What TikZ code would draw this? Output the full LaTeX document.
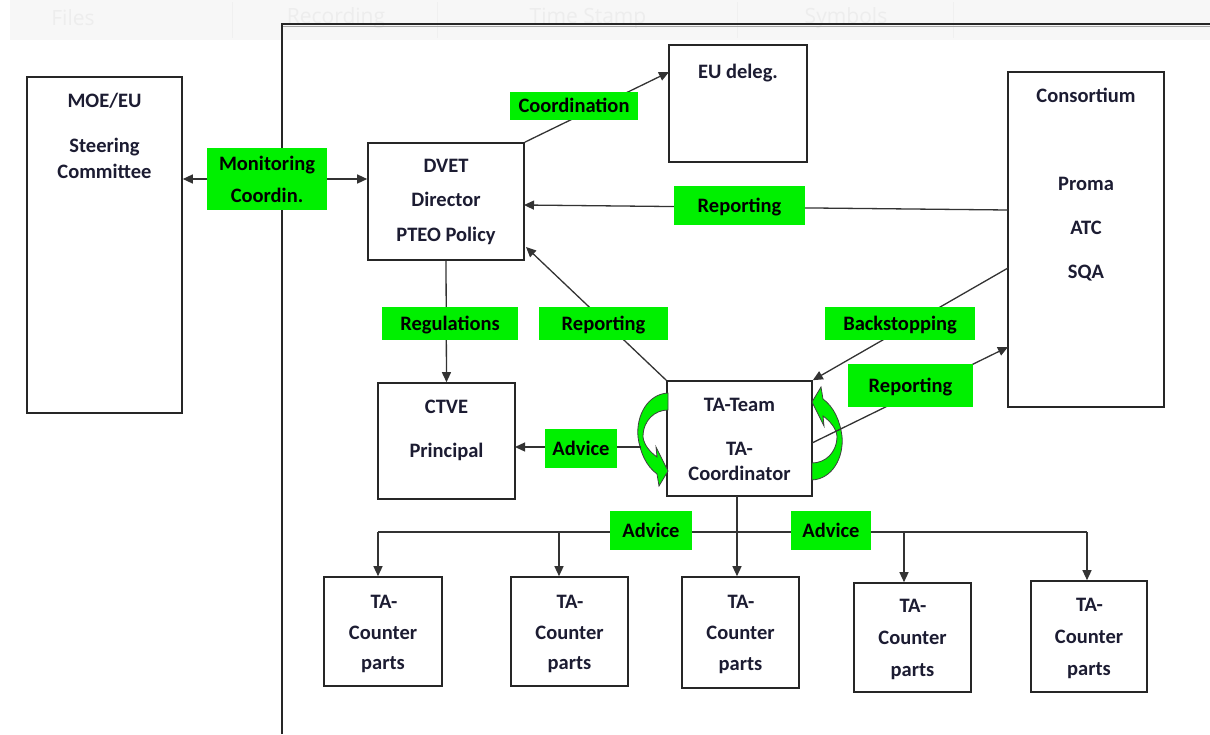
\documentclass[tikz,border=0pt]{standalone}
\usepackage{fontspec}
\setmainfont{Carlito}
\newfontfamily\hdrfont{Open Sans}
\usetikzlibrary{arrows.meta}
\definecolor{lime}{RGB}{0,240,0}
\definecolor{ink}{RGB}{28,28,50}
\newcommand\BX[5]{\node[box, minimum width={(#4-#2)*1pt}, minimum height={(#5-#3)*1pt}] (#1) at ({(#2+#4)/2},{(#3+#5)/2}) {};}
\newcommand\GL[6]{\node[gl, minimum width={(#4-#2)*1pt}, minimum height={(#5-#3)*1pt}] (#1) at ({(#2+#4)/2},{(#3+#5)/2}) {#6};}
\newcommand\TL[4]{\node[tl] (#1) at (#2,{#3+6.8}) {#4};}
\begin{document}
\begin{tikzpicture}[x=1pt,y=-1pt,
  box/.style={draw=black!85, line width=1.6pt, fill=white, inner sep=0pt},
  tl/.style={font=\fontsize{20.5}{22}\selectfont\bfseries, text=ink, inner sep=0pt, anchor=base},
  gl/.style={fill=lime, inner sep=0pt, text height=13.5pt, text depth=0pt, font=\fontsize{20.5}{22}\selectfont\bfseries},
  con/.style={draw=black!80, line width=1.3pt},
  arr/.style={con, -{Triangle[length=10pt,width=9pt]}},
  cur/.style={fill=lime, draw=black!75, line width=0.8pt},
  hdr/.style={font=\hdrfont\fontsize{21}{23}\selectfont, text=black!7}
]
\useasboundingbox (0,0) rectangle (1210,734);
% header strip
\fill[black!3] (10,0) rectangle (1210,40);
\foreach \sx in {232,437,737,953} \draw[black!6, line width=0.8pt] (\sx,2) -- (\sx,38);
\node[hdr] (h1) at (73,18) {Files};
\node[hdr] (h2) at (336,18) {Recording};
\node[hdr] (h3) at (588,18) {Time Stamp};
\node[hdr] (h4) at (846,18) {Symbols};
% frame
\draw[black!85, line width=1.5pt] (282,734) -- (282,24) -- (1210,24);
\draw[black!35, line width=1pt] (283,26.5) -- (1210,26.5);
% boxes
\BX{moe}{27}{77}{182}{413}
\BX{dvet}{368}{143}{524}{260}
\BX{eud}{669}{45}{807}{162}
\BX{cons}{1008}{72}{1164}{407}
\BX{ctve}{378}{383}{515}{499}
\BX{tat}{667}{381}{812}{496}
\BX{c1}{324}{577}{442}{686}
\BX{c2}{511}{577}{628}{686}
\BX{c3}{682}{577}{799}{688}
\BX{c4}{854}{583}{971}{692}
\BX{c5}{1031}{581}{1147}{692}
% coordinates for free connector ends
\coordinate (eudIn) at (669,72);
\coordinate (consOut1) at (1008,210);
\coordinate (dvetIn1) at (524,205);
\coordinate (dvetIn2) at (526,247);
\coordinate (consOut2) at (1008,268);
\coordinate (tatOut) at (812,443);
\coordinate (consIn) at (1008,347);
\coordinate (tatAdv) at (641,447);
\coordinate (ctveIn) at (515,447);
\coordinate (b1) at (378,532);
\coordinate (b2) at (559,532);
\coordinate (b3) at (737,532);
\coordinate (b4) at (904,532);
\coordinate (b5) at (1087,532);
\coordinate (tatS) at (737,496);
% circular arrows
\path[cur] (668,393) .. controls (648,394) and (636,415) .. (638,437)
  .. controls (640,452) and (646,466) .. (657,474)
  -- (659,486) -- (668,471) -- (656,447) -- (657,457)
  .. controls (650,452) and (644,445) .. (643,437)
  .. controls (643,420) and (655,410) .. (668,410) -- cycle;
\path[cur, rotate around={180:(740,436.5)}] (668,393) .. controls (648,394) and (636,415) .. (638,437)
  .. controls (640,452) and (646,466) .. (657,474)
  -- (659,486) -- (668,471) -- (656,447) -- (657,457)
  .. controls (650,452) and (644,445) .. (643,437)
  .. controls (643,420) and (655,410) .. (668,410) -- cycle;
% green label behind the monitoring connectors
\node[fill=lime, minimum width=120pt, minimum height=62pt, inner sep=0pt] (mon) at (267,179) {};
% connectors
\draw[arr] (mon.west) -- (moe.east |- mon.west);
\draw[arr] (mon.east) -- (dvet.west |- mon.east);
\draw[arr] (dvet.north east) -- (eudIn);
\draw[arr] (consOut1) -- (dvetIn1);
\draw[arr] (dvet.south) -- (ctve.north);
\draw[arr] (tat.north west) -- (dvetIn2);
\draw[arr] (consOut2) -- (tat.north east);
\draw[arr] (tatOut) -- (consIn);
\draw[arr] (tatAdv) -- (ctveIn);
\draw[con] (b1) -- (b5);
\draw[arr] (tatS) -- (tatS |- c3.north);
\draw[arr] (b1) -- (b1 |- c1.north);
\draw[arr] (b2) -- (b2 |- c2.north);
\draw[arr] (b4) -- (b4 |- c4.north);
\draw[arr] (b5) -- (b5 |- c5.north);
% labels on top
\node[fill=lime, minimum width=120pt, minimum height=62pt, inner sep=0pt] at (mon) {};
\node[tl, text=black] (mon1) at (267,170.8) {Monitoring};
\node[tl, text=black] (mon2) at (267,202.8) {Coordin.};
\GL{lcoord}{510}{92}{638}{120}{Coordination}
\GL{lrep1}{674}{186}{805}{225}{Reporting}
\GL{lreg}{382}{307}{518}{340}{Regulations}
\GL{lrep2}{539}{307}{668}{340}{Reporting}
\GL{lback}{825}{307}{975}{340}{Backstopping}
\GL{lrep3}{848}{364}{973}{407}{Reporting}
\GL{ladv1}{545}{429}{617}{468}{Advice}
\GL{ladv2}{610}{511}{692}{550}{Advice}
\GL{ladv3}{791}{511}{871}{550}{Advice}
% box texts
\TL{t1}{104.5}{101}{MOE/EU}
\TL{t2}{104.5}{146}{Steering}
\TL{t3}{104.5}{172}{Committee}
\TL{t4}{446}{166}{DVET}
\TL{t5}{446}{200}{Director}
\TL{t6}{446}{235}{PTEO Policy}
\TL{t7}{738}{72}{EU deleg.}
\TL{t8}{1086}{96}{Consortium}
\TL{t9}{1086}{184}{Proma}
\TL{t10}{1086}{228}{ATC}
\TL{t11}{1086}{272}{SQA}
\TL{t12}{446.5}{407}{CTVE}
\TL{t13}{446.5}{451}{Principal}
\TL{t14}{739.5}{405}{TA-Team}
\TL{t15}{739.5}{449}{TA-}
\TL{t16}{739.5}{474}{Coordinator}
\TL{c1a}{384}{602}{TA-}
\TL{c1b}{383}{633}{Counter}
\TL{c1c}{383}{663}{parts}
\TL{c2a}{570}{602}{TA-}
\TL{c2b}{569.5}{633}{Counter}
\TL{c2c}{569.5}{663}{parts}
\TL{c3a}{741}{602}{TA-}
\TL{c3b}{740.5}{633}{Counter}
\TL{c3c}{740.5}{664}{parts}
\TL{c4a}{913}{606}{TA-}
\TL{c4b}{912.5}{638}{Counter}
\TL{c4c}{912.5}{670}{parts}
\TL{c5a}{1089.5}{605}{TA-}
\TL{c5b}{1089}{637}{Counter}
\TL{c5c}{1089}{669}{parts}
\end{tikzpicture}
\end{document}
